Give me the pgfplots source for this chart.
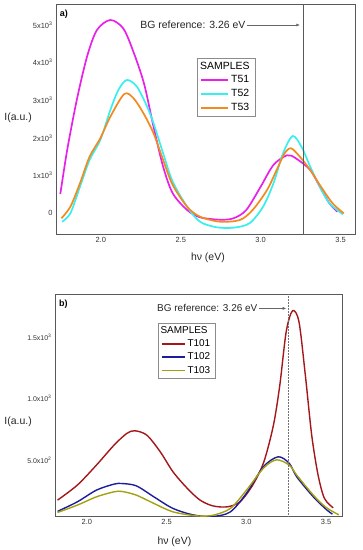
\documentclass[border=0pt]{standalone}
\usepackage{fontspec}
\setmainfont{Liberation Sans}
\usepackage{pgfplots}
\pgfplotsset{compat=1.18}
\usetikzlibrary{arrows.meta}
\definecolor{cMag}{HTML}{E820E8}
\definecolor{cCya}{HTML}{38EEEE}
\definecolor{cOra}{HTML}{F28A1E}
\definecolor{cRed}{HTML}{A3161A}
\definecolor{cBlu}{HTML}{1C1C9C}
\definecolor{cOli}{HTML}{A5A010}
\pgfplotsset{
  myax/.style={
    scale only axis,
    axis line style={draw=black!65, line width=0.8pt},
    major tick length=0pt,
    tick style={draw=none},
    ticklabel style={font=\fontsize{7.5}{8.5}\selectfont, text=black!80},
    /pgf/number format/assume math mode=true,
    xtick={2.0,2.5,3.0,3.5},
    xticklabels={2.0,2.5,3.0,3.5},
    legend cell align=left,
    clip mode=individual,
  }
}
\begin{document}
\begin{tikzpicture}
\useasboundingbox (0,0) rectangle (363bp,550bp);
% ---------- panel a ----------
\begin{axis}[myax,
  at={(56bp,316bp)}, anchor=south west,
  width=299bp, height=230bp,
  xmin=1.72, xmax=3.59, ymin=-550, ymax=5558,
  ytick={0,1000,2000,3000,4000,5000},
  yticklabels={0,1x10\textsuperscript{3},2x10\textsuperscript{3},3x10\textsuperscript{3},4x10\textsuperscript{3},5x10\textsuperscript{3}},
  legend style={at={(axis cs:2.60,4124)}, anchor=north west, draw=black!45, line width=0.6pt,
    font=\fontsize{10.5}{12}\selectfont, inner xsep=3.5pt, inner ysep=1.5pt, row sep=1.2pt},
  legend image code/.code={\draw[#1, line width=1.7pt] (0bp,0bp) -- (27bp,0bp);},
]
\addlegendimage{empty legend}
\addlegendentry{\hspace*{-31bp}SAMPLES}
\addlegendimage{cMag}
\addlegendentry{T51}
\addlegendimage{cCya}
\addlegendentry{T52}
\addlegendimage{cOra}
\addlegendentry{T53}
\addplot[forget plot, cMag, line width=1.7pt, smooth] coordinates {
(1.747,512) (1.79,1681) (1.85,3010) (1.914,4158) (1.976,4867) (2.06,5133) (2.14,4912) (2.20,4336) (2.27,3452) (2.33,2300) (2.39,1237) (2.45,531) (2.54,88) (2.62,-106) (2.745,-170) (2.83,-133) (2.91,88) (3.0,706) (3.08,1283) (3.165,1540) (3.22,1460) (3.31,1150) (3.37,706) (3.43,265) (3.48,42)};
\addplot[forget plot, cCya, line width=1.7pt, smooth] coordinates {
(1.758,-223) (1.81,0) (1.87,706) (1.93,1415) (1.997,1946) (2.06,2743) (2.11,3274) (2.163,3540) (2.226,3362) (2.29,2831) (2.33,2390) (2.39,1593) (2.45,839) (2.54,175) (2.62,-223) (2.725,-372) (2.83,-382) (2.93,-266) (3.015,175) (3.08,797) (3.14,1593) (3.20,2053) (3.255,1768) (3.31,1237) (3.37,706) (3.43,265) (3.515,-27)};
\addplot[forget plot, cOra, line width=1.7pt, smooth] coordinates {
(1.754,-133) (1.81,175) (1.87,797) (1.93,1503) (1.997,1991) (2.06,2566) (2.147,3168) (2.205,3053) (2.267,2655) (2.33,2124) (2.39,1415) (2.45,751) (2.54,175) (2.62,-89) (2.745,-223) (2.87,-178) (2.95,88) (3.04,619) (3.10,1150) (3.15,1593) (3.19,1726) (3.245,1503) (3.31,1150) (3.37,751) (3.45,265) (3.52,0)};
\draw[black!65, line width=0.6pt] ({axis cs:3.265,0}|-{rel axis cs:0,0}) -- ({axis cs:3.265,0}|-{rel axis cs:0,1});
\node[anchor=west, inner sep=0pt, font=\fontsize{10.5}{12}\selectfont, text=black!85] (bga) at (axis cs:2.246,5000) {BG reference: 3.26 eV};
\draw[black!60, line width=0.5pt, -{Latex[length=3.5bp,width=3bp]}] ([xshift=1bp]bga.east) -- (axis cs:3.245,5000);
\node[anchor=north west, inner sep=0pt, font=\bfseries\fontsize{9}{10}\selectfont] at (rel axis cs:0.012,0.975) {a)};
\node[anchor=east, inner sep=0pt, font=\fontsize{10.5}{12}\selectfont, text=black!85] at ([xshift=-24bp]rel axis cs:0,0.504) {I(a.u.)};
\node[anchor=center, inner sep=0pt, font=\fontsize{10.5}{12}\selectfont, text=black!85] at ([yshift=-24bp]rel axis cs:0.508,0) {hν (eV)};
\end{axis}
% ---------- panel b ----------
\begin{axis}[myax,
  at={(55bp,34bp)}, anchor=south west,
  width=287bp, height=222bp,
  xmin=1.80, xmax=3.60, ymin=40, ymax=1858,
  ytick={500,1000,1500},
  yticklabels={5.0x10\textsuperscript{2},1.0x10\textsuperscript{3},1.5x10\textsuperscript{3}},
  yticklabel style={font=\fontsize{7}{8}\selectfont},
  legend style={at={(axis cs:2.445,1623)}, anchor=north west, draw=black!45, line width=0.6pt,
    font=\fontsize{10}{11.5}\selectfont, inner xsep=3pt, inner ysep=1.5pt, row sep=0.8pt},
  legend image code/.code={\draw[#1, line width=1.4pt] (0bp,0bp) -- (23bp,0bp);},
]
\addlegendimage{empty legend}
\addlegendentry{\hspace*{-27bp}SAMPLES}
\addlegendimage{cRed}
\addlegendentry{T101}
\addlegendimage{cBlu}
\addlegendentry{T102}
\addlegendimage{cOli}
\addlegendentry{T103}
\addplot[forget plot, cRed, line width=1.4pt, smooth] coordinates {
(1.816,170) (1.94,293) (2.06,457) (2.17,620) (2.25,716) (2.30,738) (2.376,702) (2.46,566) (2.54,402) (2.63,266) (2.71,170) (2.79,123) (2.88,115) (2.96,156) (3.04,293) (3.11,484) (3.17,784) (3.21,1112) (3.25,1549) (3.29,1721) (3.33,1631) (3.37,1194) (3.41,702) (3.45,375) (3.49,184) (3.545,107)};
\addplot[forget plot, cBlu, line width=1.4pt, smooth] coordinates {
(1.816,78) (1.94,156) (2.06,252) (2.17,301) (2.22,306) (2.31,287) (2.42,197) (2.54,102) (2.67,48) (2.79,36) (2.90,74) (3.00,225) (3.107,443) (3.20,525) (3.27,470) (3.316,361) (3.42,197) (3.50,95) (3.54,55)};
\addplot[forget plot, cOli, line width=1.4pt, smooth] coordinates {
(1.816,69) (1.94,129) (2.06,197) (2.17,238) (2.22,241) (2.31,211) (2.42,143) (2.54,74) (2.69,41) (2.79,46) (2.90,102) (3.00,250) (3.11,435) (3.19,500) (3.27,456) (3.316,375) (3.42,211) (3.50,110) (3.58,50)};
\draw[black!55, line width=0.5pt, densely dotted] ({axis cs:3.26,0}|-{rel axis cs:0,0}) -- ({axis cs:3.26,0}|-{rel axis cs:0,1});
\node[anchor=west, inner sep=0pt, font=\fontsize{10}{11.5}\selectfont, text=black!85] (bgb) at (axis cs:2.44,1740) {BG reference: 3.26 eV};
\draw[black!60, line width=0.5pt, -{Latex[length=3.5bp,width=3bp]}] ([xshift=2bp]bgb.east) -- (axis cs:3.25,1740);
\node[anchor=north west, inner sep=0pt, font=\bfseries\fontsize{9}{10}\selectfont] at (rel axis cs:0.014,0.973) {b)};
\node[anchor=east, inner sep=0pt, font=\fontsize{10.5}{12}\selectfont, text=black!85] at ([xshift=-23bp]rel axis cs:0,0.425) {I(a.u.)};
\node[anchor=center, inner sep=0pt, font=\fontsize{10.5}{12}\selectfont, text=black!85] at ([yshift=-25.5bp]rel axis cs:0.416,0) {hν (eV)};
\end{axis}
\end{tikzpicture}
\end{document}
